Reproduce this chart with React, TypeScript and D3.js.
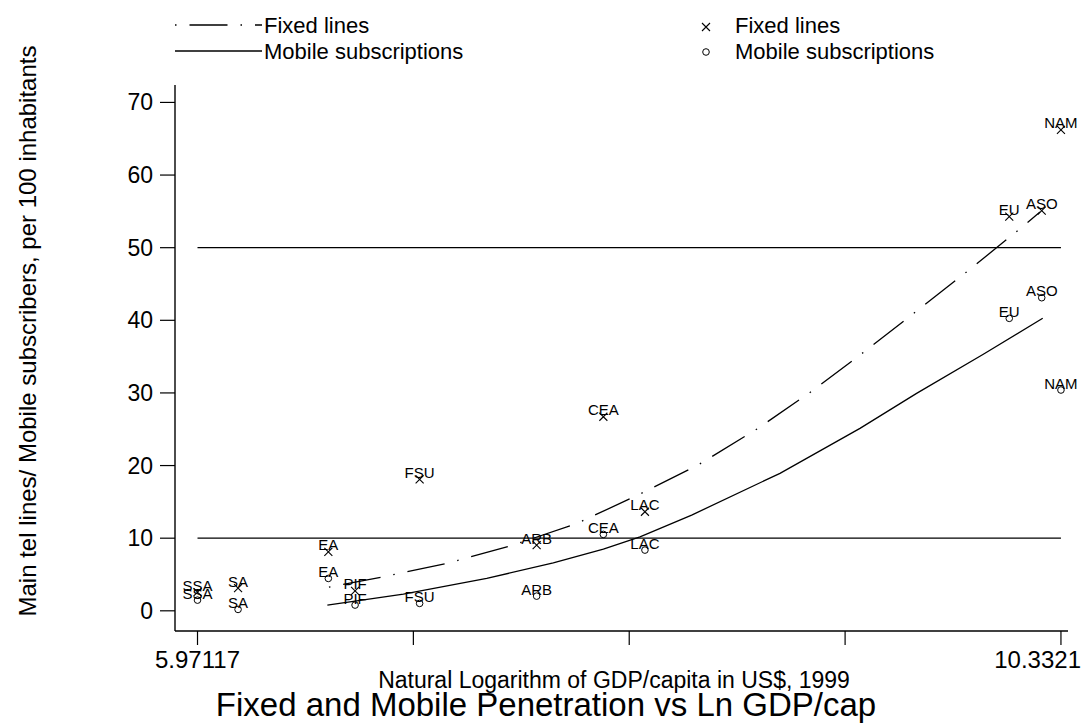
import React from "react";
import * as d3 from "d3";

const regions = ["SSA", "SA", "EA", "PIF", "FSU", "ARB", "CEA", "LAC", "EU", "ASO", "NAM"];
const lnGdp = [5.97117, 6.176, 6.632, 6.767, 7.093, 7.684, 8.021, 8.231, 10.071, 10.235, 10.3321];
const fixedLines = [2.58, 3.13, 8.13, 2.75, 18.1, 9.05, 26.72, 13.64, 54.27, 55.1, 66.21];
const mobileSubs = [1.47, 0.19, 4.46, 0.79, 1.02, 2.02, 10.52, 8.36, 40.27, 43.11, 30.4];

// fitted curves
const fixedFitX = [6.635, 6.903, 7.236, 7.565, 7.888, 8.196, 8.499, 8.797, 9.075, 9.317, 9.61, 9.868, 10.13, 10.226];
const fixedFitY = [3.26, 4.64, 6.57, 9.05, 12.04, 15.94, 20.07, 25.03, 30.26, 35.22, 41.42, 46.93, 52.71, 54.91];
const mobileFitX = [6.627, 7.011, 7.432, 7.768, 8.021, 8.206, 8.467, 8.913, 9.317, 9.603, 9.94, 10.24];
const mobileFitY = [0.78, 2.3, 4.46, 6.61, 8.5, 10.19, 13.18, 18.93, 25.12, 29.94, 35.32, 40.28];

const yTicks = [0, 10, 20, 30, 40, 50, 60, 70];
const xTicks = [5.97117, 7.0614, 8.1516, 9.2419, 10.3321];
const xTickLabels = ["5.97117", "", "", "", "10.3321"];
const refLines = [10, 50];

const FONT = "'Liberation Sans', Arial, Helvetica, sans-serif";
const DASHDOT = "38,13,1.5,13";

export default function App() {
  const W = 1082;
  const H = 725;
  const x = d3.scaleLinear().domain([5.8575, 10.3677]).range([175, 1068]);
  const y = d3.scaleLinear().domain([-2.78, 72.4]).range([631, 85]);

  const line = d3
    .line<[number, number]>()
    .x((d) => x(d[0]))
    .y((d) => y(d[1]));

  const fixedFit = fixedFitX.map((v, i) => [v, fixedFitY[i]] as [number, number]);
  const mobileFit = mobileFitX.map((v, i) => [v, mobileFitY[i]] as [number, number]);

  const cross = (cx: number, cy: number, key: string) => (
    <path
      key={key}
      d={`M${cx - 4},${cy - 4}L${cx + 4},${cy + 4}M${cx - 4},${cy + 4}L${cx + 4},${cy - 4}`}
      stroke="#000"
      strokeWidth={1.1}
      fill="none"
    />
  );
  const circ = (cx: number, cy: number, key: string) => (
    <circle key={key} cx={cx} cy={cy} r={3.3} stroke="#000" strokeWidth={1} fill="none" />
  );

  const y0 = y.range()[0];
  const x0 = x.range()[0];

  return (
    <svg width={W} height={H} style={{ position: "absolute", left: 0, top: 0, background: "#fff" }} fontFamily={FONT}>
      <rect width={W} height={H} fill="#fff" />
      {/* Legend */}
      <g>
        <line x1={175} x2={262} y1={25} y2={25} stroke="#000" strokeWidth={1.3} strokeDasharray={DASHDOT} strokeDashoffset={51} />
        <text x={264} y={33} fontSize={22}>Fixed lines</text>
        <line x1={175} x2={262} y1={51} y2={51} stroke="#000" strokeWidth={1.3} />
        <text x={264} y={59} fontSize={22}>Mobile subscriptions</text>
        {cross(706, 27, "lc")}
        {circ(706, 52, "lo")}
        <text x={735} y={33} fontSize={22}>Fixed lines</text>
        <text x={735} y={59} fontSize={22}>Mobile subscriptions</text>
      </g>

      {/* Axes */}
      <line x1={x0} x2={x0} y1={y.range()[1]} y2={y0} stroke="#000" strokeWidth={1.4} />
      <line x1={x0} x2={x.range()[1]} y1={y0} y2={y0} stroke="#000" strokeWidth={1.4} />
      {yTicks.map((t) => (
        <g key={"yt" + t}>
          <line x1={x0 - 15} x2={x0} y1={y(t)} y2={y(t)} stroke="#000" strokeWidth={1.2} />
          <text x={x0 - 22} y={y(t)} dy="0.35em" textAnchor="end" fontSize={23}>
            {t}
          </text>
        </g>
      ))}
      {xTicks.map((t, i) => (
        <g key={"xt" + i}>
          <line x1={x(t)} x2={x(t)} y1={y0} y2={y0 + 14} stroke="#000" strokeWidth={1.2} />
          {xTickLabels[i] && (
            <text
              x={i === xTicks.length - 1 ? W - 1 : x(t)}
              y={668}
              textAnchor={i === xTicks.length - 1 ? "end" : "middle"}
              fontSize={24}
            >
              {xTickLabels[i]}
            </text>
          )}
        </g>
      ))}

      {/* Axis titles */}
      <text x={614} y={688} textAnchor="middle" fontSize={23}>
        Natural Logarithm of GDP/capita in US$, 1999
      </text>
      <text x={546} y={716} textAnchor="middle" fontSize={33}>
        Fixed and Mobile Penetration vs Ln GDP/cap
      </text>
      <text transform={`translate(36,331) rotate(-90)`} textAnchor="middle" fontSize={24}>
        Main tel lines/ Mobile subscribers, per 100 inhabitants
      </text>

      {/* Reference lines */}
      {refLines.map((r) => (
        <line key={"rl" + r} x1={x(xTicks[0])} x2={x(xTicks[4])} y1={y(r)} y2={y(r)} stroke="#000" strokeWidth={1.3} />
      ))}

      {/* Fitted curves */}
      <path d={line(fixedFit) || ""} fill="none" stroke="#000" strokeWidth={1.3} strokeDasharray={DASHDOT} strokeDashoffset={51} />
      <path d={line(mobileFit) || ""} fill="none" stroke="#000" strokeWidth={1.3} />

      {/* Scatter points with labels */}
      {regions.map((r, i) => (
        <g key={"f" + r}>
          {cross(x(lnGdp[i]), y(fixedLines[i]), "fc" + r)}
          <text x={x(lnGdp[i])} y={y(fixedLines[i]) - 1.5} textAnchor="middle" fontSize={15}>
            {r}
          </text>
        </g>
      ))}
      {regions.map((r, i) => (
        <g key={"m" + r}>
          {circ(x(lnGdp[i]), y(mobileSubs[i]), "mc" + r)}
          <text x={x(lnGdp[i])} y={y(mobileSubs[i]) - 1.5} textAnchor="middle" fontSize={15}>
            {r}
          </text>
        </g>
      ))}
    </svg>
  );
}
